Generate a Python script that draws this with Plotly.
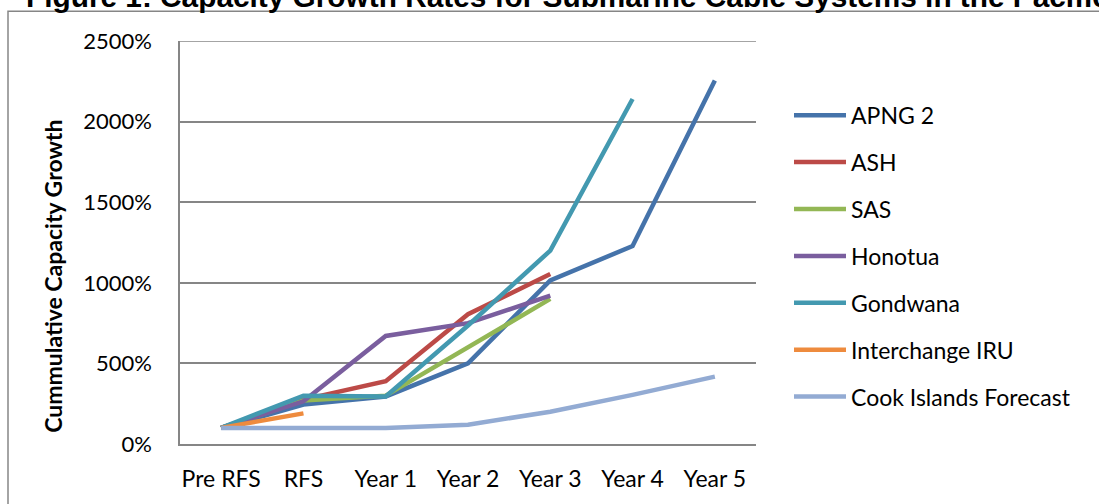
import plotly.graph_objects as go

categories = ["Pre RFS", "RFS", "Year 1", "Year 2", "Year 3", "Year 4", "Year 5"]

apng2 = [100, 245, 295, 500, 1015, 1228, 2255]
ash = [100, 275, 390, 805, 1055, None, None]
sas = [100, 270, 300, 600, 900, None, None]
honotua = [100, 265, 670, 750, 920, None, None]
gondwana = [100, 300, 295, 735, 1200, 2140, None]
interchange = [100, 190, None, None, None, None, None]
cook = [100, 100, 100, 120, 200, 305, 418]

series = [
    ("APNG 2", apng2, "#4573AA"),
    ("ASH", ash, "#BC4A47"),
    ("SAS", sas, "#93B755"),
    ("Honotua", honotua, "#7A5E9E"),
    ("Gondwana", gondwana, "#4399B0"),
    ("Interchange IRU", interchange, "#EE8B3E"),
    ("Cook Islands Forecast", cook, "#93ABD3"),
]

W, H = 1099, 504
L, R, T, B = 180, 756, 41, 446

fig = go.Figure()
for i, (name, vals, col) in enumerate(series):
    fig.add_trace(go.Scatter(
        x=categories, y=vals, name=name, mode="lines",
        line=dict(color=col, width=4.5), legendgroup=str(i),
        connectgaps=False,
    ))

font = "Lato, Calibri, Carlito, sans-serif"


def px_x(p):
    return (p - L) / (R - L)


def px_y(p):
    return (B - p) / (B - T)


fig.update_layout(
    width=W, height=H,
    margin=dict(l=L, r=W - R, t=T, b=H - B),
    plot_bgcolor="white", paper_bgcolor="white",
    showlegend=True,
    legend=dict(
        x=px_x(789), y=px_y(94), xref="paper", yref="paper",
        xanchor="left", yanchor="top",
        font=dict(family=font, size=23, color="black"),
        traceorder="grouped", tracegroupgap=14, itemwidth=52,
        bgcolor="rgba(0,0,0,0)",
    ),
    xaxis=dict(
        type="category", range=[-0.5, 6.5], showgrid=False,
        showline=True, linecolor="#868686", linewidth=1.5,
        ticks="", tickfont=dict(family=font, size=23, color="black"),
        ticklabelstandoff=14,
        fixedrange=True,
    ),
    yaxis=dict(
        range=[0, 2500], dtick=500, ticksuffix="%",
        showgrid=True, gridcolor="#868686", gridwidth=1.5,
        showline=True, linecolor="#868686", linewidth=1.5,
        zeroline=False, ticks="",
        tickfont=dict(family=font, size=22, color="black"),
        ticklabelstandoff=22,
    ),
)

# top 2500% gridline as full line
fig.add_shape(type="line", xref="paper", yref="y", x0=0, x1=1, y0=2500, y1=2500,
              line=dict(color="#868686", width=1.5))

# chart border
fig.add_shape(type="rect", xref="paper", yref="paper",
              x0=px_x(8), x1=px_x(1120), y0=px_y(11), y1=px_y(540),
              line=dict(color="#868686", width=1.5), layer="below")

# y axis title
fig.add_annotation(
    text="<b>Cummulative Capacity Growth</b>",
    xref="paper", yref="paper", x=px_x(53), y=px_y(278),
    xanchor="center", yanchor="middle", textangle=-90, showarrow=False,
    font=dict(family=font, size=23, color="black"),
)

fig.add_annotation(
    text="<b>Figure 1: Capacity Growth Rates for Submarine Cable Systems in the Pacific</b>",
    xref="paper", yref="paper", x=px_x(24), y=px_y(-4),
    xanchor="left", yanchor="middle", showarrow=False,
    font=dict(family="Liberation Sans, Arial", size=29.8, color="black"),
)

fig.write_html("out.html")
